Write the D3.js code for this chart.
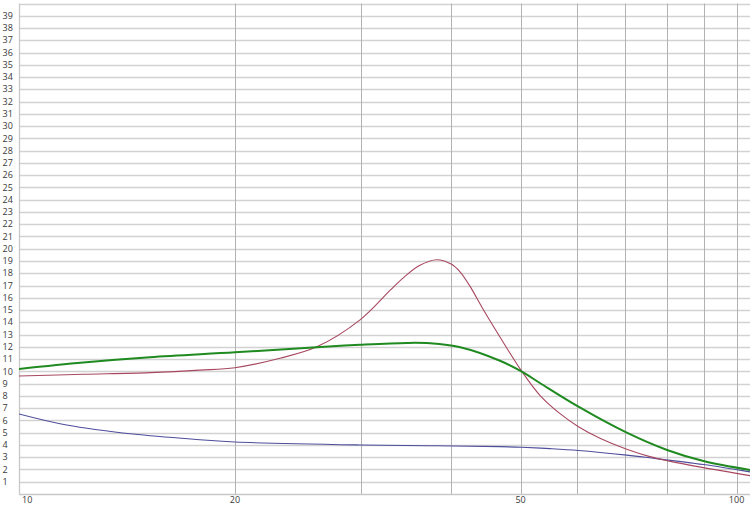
<!DOCTYPE html>
<html><head><meta charset="utf-8">
<script src="https://cdn.jsdelivr.net/npm/d3@7/dist/d3.min.js"></script>
<style>
html,body{margin:0;padding:0;background:#fff;}
svg{display:block;}
text{font-family:"Open Sans","Noto Sans",sans-serif;font-size:9px;fill:#3a3a3a;}
</style></head>
<body>
<svg id="c" width="750" height="512"></svg>
<script>
const yTicks = d3.range(1, 40);
const xGrid = [10,20,30,40,50,60,70,80,90,100];
const xLabels = [10,20,50,100];

const greenX = [10, 12.29, 15.22, 20, 26, 29.87, 34.7, 37.4, 41.2, 46.8, 50.2, 53.2, 60.2, 70.3, 80, 89.9, 104.4];
const greenY = [10.2, 10.72, 11.15, 11.55, 11.97, 12.17, 12.32, 12.29, 11.97, 10.87, 9.98, 9.05, 7.12, 5.0, 3.59, 2.69, 1.96];

const redX = [10, 12.29, 15.22, 17.87, 20, 23.1, 26, 29.87, 32.89, 34.5, 36.2, 38.2, 40, 41.2, 42.5, 44.4, 46.8, 50.2, 53.2, 56.75, 60.2, 64.5, 70.3, 75.7, 80, 89.9, 104.4];
const redY = [9.62, 9.76, 9.9, 10.1, 10.3, 11.07, 12.0, 14.2, 16.6, 17.75, 18.65, 19.1, 18.75, 18.1, 16.95, 15.0, 12.8, 10.0, 8.05, 6.55, 5.49, 4.55, 3.65, 3.05, 2.72, 2.15, 1.5];

const blueX = [10, 11.65, 14.42, 17.87, 20, 29.87, 38.2, 46.8, 50.2, 54.95, 60.2, 70.3, 75.7, 89.9, 104.4];
const blueY = [6.53, 5.63, 4.89, 4.43, 4.24, 4.0, 3.93, 3.86, 3.81, 3.7, 3.55, 3.17, 2.95, 2.4, 1.8];

(function(){
const pL = 19, pR = 750, pT = 3.5, pB = 494;
const x = d3.scaleLog().domain([10, 10 * Math.pow(10, (pR - pL) / 717.6)]).range([pL, pR]);
const y = d3.scaleLinear().domain([0, 40]).range([pB, pT]);

const svg = d3.select('#c');
svg.append('defs').append('clipPath').attr('id','clip').append('rect')
  .attr('x', pL).attr('y', pT - 1).attr('width', pR - pL).attr('height', pB - pT + 1);

svg.append('g').selectAll('line').data(d3.range(1, 41)).join('line')
  .attr('x1', pL).attr('x2', pR)
  .attr('y1', d => Math.round(y(d)) + 0.5).attr('y2', d => Math.round(y(d)) + 0.5)
  .attr('stroke', '#d2d2d2').attr('stroke-width', 1.3);

svg.append('g').selectAll('line').data(xGrid.slice(1)).join('line')
  .attr('x1', d => Math.round(x(d)) + 0.5).attr('x2', d => Math.round(x(d)) + 0.5)
  .attr('y1', pT).attr('y2', pB)
  .attr('stroke', '#b2b2b2').attr('stroke-width', 1);

svg.append('line').attr('x1', pL + 0.5).attr('x2', pL + 0.5).attr('y1', pT).attr('y2', pB)
  .attr('stroke', '#c8c8c8').attr('stroke-width', 1.3);
svg.append('line').attr('x1', pL).attr('x2', pR).attr('y1', Math.round(y(0)) + 0.5).attr('y2', Math.round(y(0)) + 0.5)
  .attr('stroke', '#c8c8c8').attr('stroke-width', 1.3);

svg.append('g').selectAll('text').data(yTicks).join('text')
  .attr('x', 2.5).attr('y', d => y(d)).attr('dy', '0.35em')
  .attr('text-anchor', 'start').text(d => d);

svg.append('g').selectAll('text').data(xLabels).join('text')
  .attr('x', d => d === 10 ? x(d) + 3 : x(d))
  .attr('y', 502.5)
  .attr('text-anchor', d => d === 10 ? 'start' : 'middle')
  .text(d => d);

const line = d3.line().x(d => x(d[0])).y(d => y(d[1])).curve(d3.curveCatmullRom.alpha(0.5));
const g = svg.append('g').attr('clip-path', 'url(#clip)');
function draw(xs, ys, color, w) {
  g.append('path').datum(xs.map((v, i) => [v, ys[i]]))
    .attr('d', line).attr('fill', 'none').attr('stroke', color).attr('stroke-width', w)
    .attr('stroke-linejoin', 'round');
}
draw(blueX, blueY, '#4d4d9c', 1.1);
draw(redX, redY, '#a84860', 1.1);
draw(greenX, greenY, '#1f8a1f', 2);
})();
</script>
</body></html>
